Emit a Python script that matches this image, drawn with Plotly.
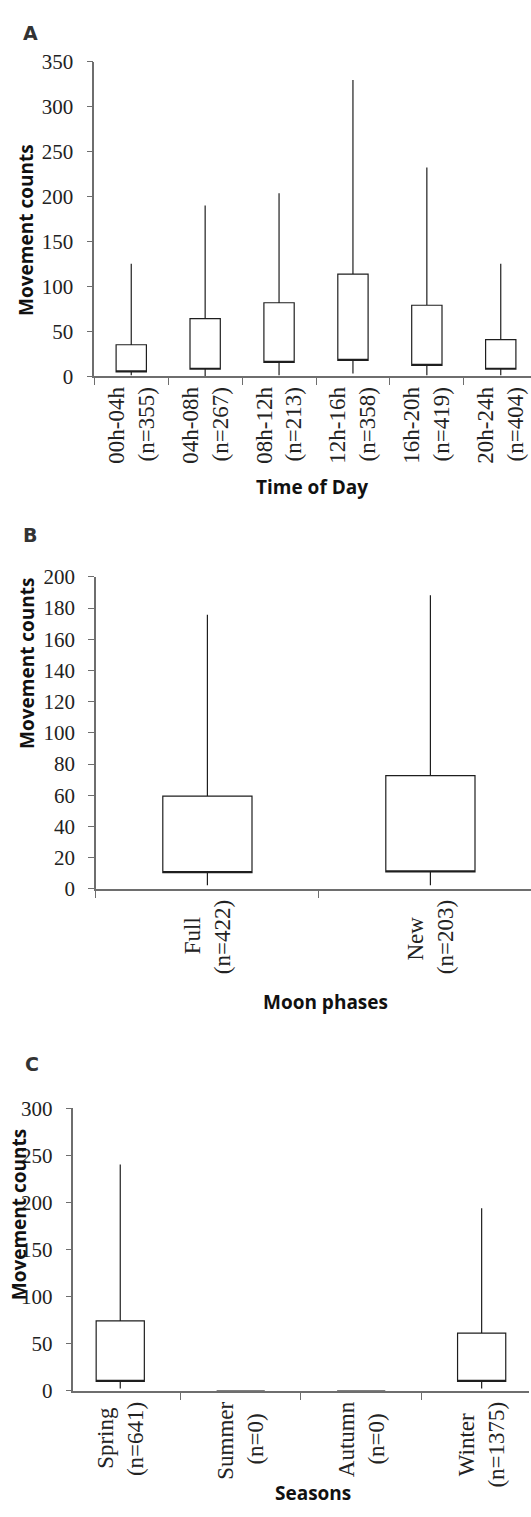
import plotly.graph_objects as go

W, H = 531, 1517

# ---------------- data ----------------
time_names = ["00h-04h", "04h-08h", "08h-12h", "12h-16h", "16h-20h", "20h-24h"]
time_n = ["(n=355)", "(n=267)", "(n=213)", "(n=358)", "(n=419)", "(n=404)"]
time_min = [1, 0, 1, 3, 1, 1]
time_q1 = [4.7, 7.7, 15.3, 17.5, 12, 7.7]
time_q3 = [35, 64, 81.8, 113.6, 79, 40.6]
time_max = [125.3, 190, 203.9, 330, 232.4, 125.3]

moon_names = ["Full", "New"]
moon_n = ["(n=422)", "(n=203)"]
moon_min = [2.3, 2.3]
moon_q1 = [10.5, 10.9]
moon_q3 = [59.5, 72.6]
moon_max = [175.8, 188.2]

season_names = ["Spring", "Summer", "Autumn", "Winter"]
season_n = ["(n=641)", "(n=0)", "(n=0)", "(n=1375)"]
season_min = [2.4, 0, 0, 2.4]
season_q1 = [10.1, 0, 0, 10.1]
season_q3 = [74.3, 0, 0, 61.4]
season_max = [240.3, 0, 0, 193.9]

y_titles = ["Movement counts", "Movement counts", "Movement counts"]
x_titles = ["Time of Day", "Moon phases", "Seasons"]
panel_letters = ["A", "B", "C"]

SERIF = "Liberation Serif"
SANS = "Open Sans"
LINE = "#1e1e1e"
AXIS = "#6e6e6e"

# approximate Times advance widths (em) to centre the two label lines
_TW = {'h': .5, '-': .333, '(': .333, ')': .333, 'n': .5, '=': .564, 'F': .556, 'u': .5,
       'l': .278, 'N': .722, 'e': .444, 'w': .722, 'S': .556, 'p': .5, 'r': .333, 'i': .278,
       'g': .5, 'm': .778, 'A': .722, 't': .278, 'W': .944}


def _w(s):
    return sum(_TW.get(c, .5) for c in s)


def make_label(a, b):
    wa, wb = _w(a), _w(b)
    pad = int(round(abs(wa - wb) / 2 / 0.25))
    if wa < wb:
        a = a + "\u00a0" * pad
    else:
        b = b + "\u00a0" * pad
    return a + "<br>" + b


def px_x(p):
    return p / W


def px_y(p):
    return 1 - p / H


fig = go.Figure()


def add_box(names, lo, q1, q3, hi, axis_suffix, width):
    fig.add_trace(go.Box(
        x=names, q1=q1, median=q1, q3=q3, lowerfence=lo, upperfence=hi,
        boxpoints=False, width=width, whiskerwidth=0,
        fillcolor="white", line=dict(color=LINE, width=1.2),
        xaxis="x" + axis_suffix, yaxis="y" + axis_suffix,
        showlegend=False, hoverinfo="skip",
    ))


add_box(time_names, time_min, time_q1, time_q3, time_max, "", 0.41)
add_box(moon_names, moon_min, moon_q1, moon_q3, moon_max, "2", 0.40)
add_box(season_names, season_min, season_q1, season_q3, season_max, "3", 0.40)

xcommon = dict(type="category", tickson="boundaries", ticks="outside", ticklen=7,
               tickcolor=AXIS, tickwidth=1.3, showline=True, linecolor=AXIS, linewidth=1.5,
               showgrid=False, zeroline=False, tickangle=-90,
               tickfont=dict(family=SERIF, size=23, color="#222"))
ycommon = dict(ticks="outside", ticklen=6, tickcolor=AXIS, tickwidth=1.3, showline=True,
               linecolor=AXIS, linewidth=1.5, showgrid=False, zeroline=False,
               ticklabelstandoff=9,
               tickfont=dict(family=SERIF, size=21, color="#222"))

# panel geometry (pixels); panels A and B run past the right edge of the page
A = dict(x0=94.3, x1=531, y0=50.8, y1=370, cat=73.9)
B = dict(x0=95.9, x1=531, y0=574, y1=891, cat=223.0)
C = dict(x0=73.4, x1=528.5, y0=1114, y1=1401)

a_hi = -0.5 + (A["x1"] - A["x0"]) / A["cat"]
b_hi = -0.5 + (B["x1"] - B["x0"]) / B["cat"]

fig.update_layout(
    width=W, height=H, margin=dict(l=0, r=0, t=0, b=0),
    paper_bgcolor="white", plot_bgcolor="white", showlegend=False,
    xaxis=dict(xcommon, domain=[px_x(A["x0"]), px_x(A["x1"])], anchor="y",
               range=[-0.5, a_hi], tickvals=time_names,
               ticktext=[make_label(a, b) for a, b in zip(time_names, time_n)]),
    yaxis=dict(ycommon, domain=[px_y(A["y1"]), px_y(A["y0"])], range=[0, 350], dtick=50, anchor="x"),
    xaxis2=dict(xcommon, domain=[px_x(B["x0"]), px_x(B["x1"])], anchor="y2",
                range=[-0.5, b_hi], tickvals=moon_names,
                ticktext=[make_label(a, b) for a, b in zip(moon_names, moon_n)]),
    yaxis2=dict(ycommon, domain=[px_y(B["y1"]), px_y(B["y0"])], range=[0, 200], dtick=20, anchor="x2"),
    xaxis3=dict(xcommon, domain=[px_x(C["x0"]), px_x(C["x1"])], anchor="y3", layer="below traces",
                tickvals=season_names,
                ticktext=[make_label(a, b) for a, b in zip(season_names, season_n)]),
    yaxis3=dict(ycommon, domain=[px_y(C["y1"]), px_y(C["y0"])], range=[0, 300], dtick=50, anchor="x3"),
)

ann = []
# y titles
for txt, (x, y) in zip(y_titles, [(26.4, 222), (26.4, 662), (18.6, 1222)]):
    ann.append(dict(text=txt, x=px_x(x), y=px_y(y), xref="paper", yref="paper",
                    textangle=-90, showarrow=False, xanchor="center", yanchor="middle",
                    font=dict(family=SANS, size=19, color="#111", weight="bold")))
# x titles
for txt, (x, y) in zip(x_titles, [(312, 483), (325, 1006), (312.5, 1505)]):
    ann.append(dict(text=txt, x=px_x(x), y=px_y(y), xref="paper", yref="paper",
                    showarrow=False, xanchor="center", yanchor="middle",
                    font=dict(family=SANS, size=19, color="#111", weight="bold")))
# panel letters
for txt, (x, y) in zip(panel_letters, [(30.5, 21), (30, 531), (32, 1069)]):
    ann.append(dict(text=txt, x=px_x(x), y=px_y(y), xref="paper", yref="paper",
                    showarrow=False, xanchor="center", yanchor="middle",
                    font=dict(family="DejaVu Sans", size=19, color="#333", weight="bold")))
fig.update_layout(annotations=ann)

# remove the default page margin so the figure sits at the window's top-left corner
fig.write_html("out.html", config={"displayModeBar": False},
               post_script="document.body.style.margin='0';document.body.style.overflow='hidden';")
